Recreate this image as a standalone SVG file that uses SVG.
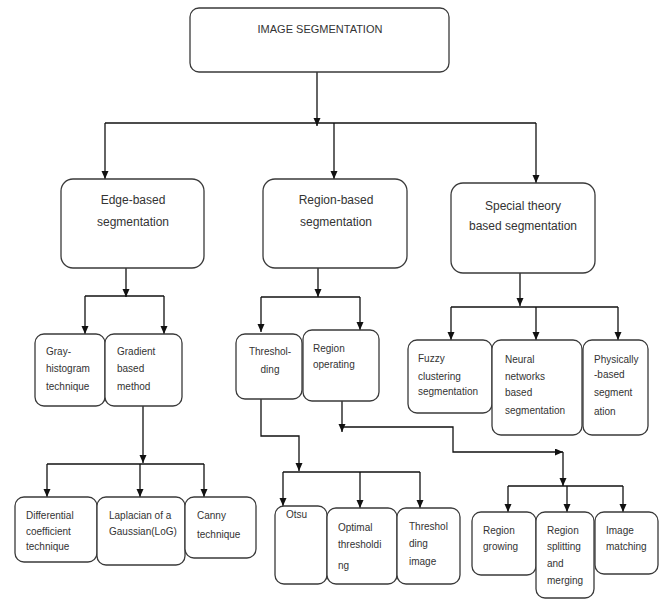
<svg xmlns="http://www.w3.org/2000/svg" width="664" height="599" viewBox="0 0 664 599">
<style>
.box{fill:#fff;stroke:#3a3a3a;stroke-width:1.3}
.ln{fill:none;stroke:#111;stroke-width:1.3}
text{font-family:"Liberation Sans",Arial,sans-serif;fill:#333}
.t1{font-size:11px}
.t2{font-size:12px}
.t3{font-size:10px}
</style>
<defs>
<marker id="ah" markerUnits="userSpaceOnUse" markerWidth="9" markerHeight="8" refX="8" refY="3.5" orient="auto">
<path d="M0,0 L8,3.5 L0,7 z" fill="#111"/>
</marker>
</defs>
<g id="connectors">
<path class="ln" d="M317,72 V126" marker-end="url(#ah)"/>
<path class="ln" d="M105,123 H536"/>
<path class="ln" d="M105,123 V179" marker-end="url(#ah)"/>
<path class="ln" d="M334,123 V179" marker-end="url(#ah)"/>
<path class="ln" d="M536,123 V183" marker-end="url(#ah)"/>
<path class="ln" d="M126,268 V297" marker-end="url(#ah)"/>
<path class="ln" d="M85,296 H164"/>
<path class="ln" d="M85,296 V334" marker-end="url(#ah)"/>
<path class="ln" d="M164,296 V334" marker-end="url(#ah)"/>
<path class="ln" d="M143,406 V463" marker-end="url(#ah)"/>
<path class="ln" d="M47,464 H204"/>
<path class="ln" d="M47,464 V497" marker-end="url(#ah)"/>
<path class="ln" d="M140,464 V497" marker-end="url(#ah)"/>
<path class="ln" d="M204,464 V497" marker-end="url(#ah)"/>
<path class="ln" d="M318,268 V297" marker-end="url(#ah)"/>
<path class="ln" d="M261,297 H360"/>
<path class="ln" d="M261,297 V332" marker-end="url(#ah)"/>
<path class="ln" d="M360,297 V330" marker-end="url(#ah)"/>
<path class="ln" d="M261,399 V436 H299 V471" marker-end="url(#ah)"/>
<path class="ln" d="M283,472 H420"/>
<path class="ln" d="M283,472 V506" marker-end="url(#ah)"/>
<path class="ln" d="M360,472 V508" marker-end="url(#ah)"/>
<path class="ln" d="M420,472 V508" marker-end="url(#ah)"/>
<path class="ln" d="M342,401 V432" marker-end="url(#ah)"/>
<path class="ln" d="M342,427 H453 V452 H563" marker-end="url(#ah)"/>
<path class="ln" d="M563,452 V486" marker-end="url(#ah)"/>
<path class="ln" d="M508,486 H623"/>
<path class="ln" d="M508,486 V512" marker-end="url(#ah)"/>
<path class="ln" d="M567,486 V512" marker-end="url(#ah)"/>
<path class="ln" d="M623,486 V512" marker-end="url(#ah)"/>
<path class="ln" d="M520,273 V306" marker-end="url(#ah)"/>
<path class="ln" d="M451,307 H618"/>
<path class="ln" d="M451,307 V340" marker-end="url(#ah)"/>
<path class="ln" d="M536,307 V340" marker-end="url(#ah)"/>
<path class="ln" d="M618,307 V340" marker-end="url(#ah)"/>
</g>
<g id="n-root"><rect class="box" x="190" y="8" width="259" height="64" rx="9"/><text class="t1" x="320" y="33" text-anchor="middle">IMAGE SEGMENTATION</text></g>
<g id="n-edge"><rect class="box" x="61" y="179" width="143" height="89" rx="12"/><text class="t2" x="133" y="204" text-anchor="middle">Edge-based</text><text class="t2" x="133" y="226" text-anchor="middle">segmentation</text></g>
<g id="n-region"><rect class="box" x="263" y="179" width="144" height="89" rx="12"/><text class="t2" x="336" y="204" text-anchor="middle">Region-based</text><text class="t2" x="336" y="226" text-anchor="middle">segmentation</text></g>
<g id="n-special"><rect class="box" x="451" y="183" width="144" height="90" rx="12"/><text class="t2" x="523" y="210" text-anchor="middle">Special theory</text><text class="t2" x="523" y="230" text-anchor="middle">based segmentation</text></g>
<g id="n-gray"><rect class="box" x="35" y="334" width="70" height="72" rx="9"/><text class="t3" x="46" y="355">Gray-</text><text class="t3" x="46" y="372">histogram</text><text class="t3" x="46" y="390">technique</text></g>
<g id="n-gradient"><rect class="box" x="105" y="334" width="77" height="72" rx="9"/><text class="t3" x="117" y="355">Gradient</text><text class="t3" x="117" y="372">based</text><text class="t3" x="117" y="390">method</text></g>
<g id="n-diff"><rect class="box" x="15" y="497" width="82" height="65" rx="9"/><text class="t3" x="26" y="519">Differential</text><text class="t3" x="26" y="535">coefficient</text><text class="t3" x="26" y="550">technique</text></g>
<g id="n-log"><rect class="box" x="97" y="497" width="88" height="68" rx="9"/><text class="t3" x="109" y="519">Laplacian of a</text><text class="t3" x="109" y="535">Gaussian(LoG)</text></g>
<g id="n-canny"><rect class="box" x="185" y="497" width="71" height="61" rx="9"/><text class="t3" x="197" y="519">Canny</text><text class="t3" x="197" y="538">technique</text></g>
<g id="n-thresh"><rect class="box" x="236" y="334" width="66" height="65" rx="9"/><text class="t3" x="270" y="355" text-anchor="middle">Threshol-</text><text class="t3" x="270" y="373" text-anchor="middle">ding</text></g>
<g id="n-regop"><rect class="box" x="303" y="330" width="76" height="71" rx="9"/><text class="t3" x="313" y="352">Region</text><text class="t3" x="313" y="368">operating</text></g>
<g id="n-otsu"><rect class="box" x="275" y="506" width="52" height="78" rx="9"/><text class="t3" x="286" y="518">Otsu</text></g>
<g id="n-optimal"><rect class="box" x="327" y="508" width="70" height="76" rx="9"/><text class="t3" x="338" y="531">Optimal</text><text class="t3" x="338" y="548">thresholdi</text><text class="t3" x="338" y="569">ng</text></g>
<g id="n-threshimg"><rect class="box" x="397" y="508" width="63" height="76" rx="9"/><text class="t3" x="409" y="530">Threshol</text><text class="t3" x="409" y="547">ding</text><text class="t3" x="409" y="565">image</text></g>
<g id="n-fuzzy"><rect class="box" x="408" y="340" width="84" height="73" rx="9"/><text class="t3" x="418" y="362">Fuzzy</text><text class="t3" x="418" y="380">clustering</text><text class="t3" x="418" y="395">segmentation</text></g>
<g id="n-neural"><rect class="box" x="492" y="340" width="90" height="95" rx="9"/><text class="t3" x="505" y="363">Neural</text><text class="t3" x="505" y="380">networks</text><text class="t3" x="505" y="396">based</text><text class="t3" x="505" y="414">segmentation</text></g>
<g id="n-phys"><rect class="box" x="583" y="340" width="65" height="95" rx="9"/><text class="t3" x="594" y="363">Physically</text><text class="t3" x="594" y="378">-based</text><text class="t3" x="594" y="396">segment</text><text class="t3" x="594" y="415">ation</text></g>
<g id="n-grow"><rect class="box" x="472" y="512" width="64" height="63" rx="9"/><text class="t3" x="483" y="534">Region</text><text class="t3" x="483" y="550">growing</text></g>
<g id="n-split"><rect class="box" x="536" y="512" width="58" height="86" rx="9"/><text class="t3" x="547" y="534">Region</text><text class="t3" x="547" y="550">splitting</text><text class="t3" x="547" y="567">and</text><text class="t3" x="547" y="584">merging</text></g>
<g id="n-match"><rect class="box" x="595" y="512" width="63" height="62" rx="9"/><text class="t3" x="606" y="534">Image</text><text class="t3" x="606" y="550">matching</text></g>
</svg>
